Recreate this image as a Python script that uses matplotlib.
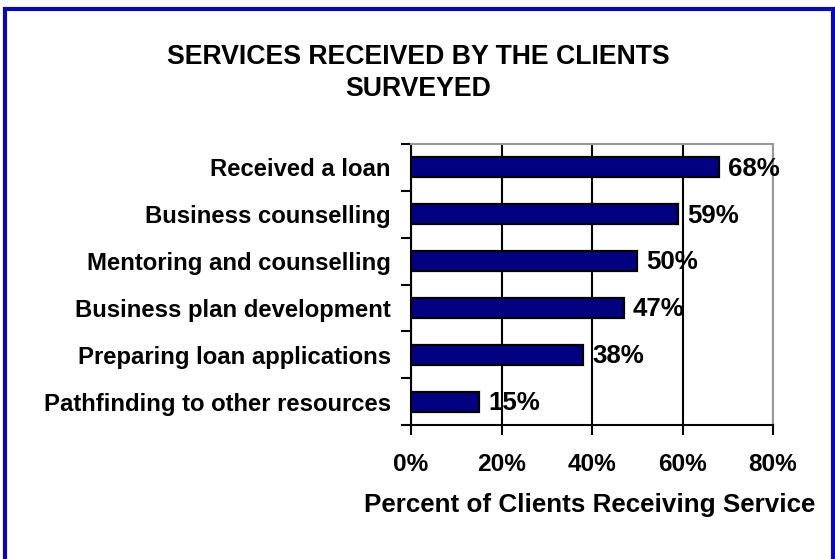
import matplotlib.pyplot as plt
from matplotlib.patches import Rectangle
from matplotlib.ticker import FixedLocator, PercentFormatter

services = [
    "Received a loan",
    "Business counselling",
    "Mentoring and counselling",
    "Business plan development",
    "Preparing loan applications",
    "Pathfinding to other resources",
]
percent = [68, 59, 50, 47, 38, 15]

plt.rcParams["font.family"] = ["Liberation Sans", "DejaVu Sans"]
plt.rcParams["font.weight"] = "bold"

W, H = 835, 559
fig = plt.figure(figsize=(W / 100, H / 100), dpi=100)
ax = fig.add_axes([411 / W, 1 - 425 / H, 362 / W, 281 / H])

# categories from top to bottom
ypos = list(range(len(services)))[::-1]
ax.barh(ypos, percent, height=0.43, color="#000080", edgecolor="black",
        linewidth=1.6, zorder=3)

for y, v in zip(ypos, percent):
    ax.annotate(f"{v}%", xy=(v, y), xytext=(6.5, -1), textcoords="offset points",
                ha="left", va="center", fontsize=18.6, fontweight="bold",
                zorder=4)

ax.set_xlim(0, 80)
ax.set_ylim(-0.5, len(services) - 0.5)
ax.set_xticks([0, 20, 40, 60, 80])
ax.xaxis.set_major_formatter(PercentFormatter(decimals=0))
ax.grid(axis="x", color="black", linewidth=1.5, zorder=1)

# category labels sit between the boundary ticks
ax.set_yticks(ypos)
ax.set_yticklabels(services)
ax.yaxis.set_minor_locator(FixedLocator([i - 0.5 for i in range(len(services) + 1)]))
ax.tick_params(axis="y", which="major", length=0, pad=14.4, labelsize=17.2)
ax.tick_params(axis="y", which="minor", length=7, width=1.5, direction="out")
ax.tick_params(axis="x", length=7, width=1.5, direction="out", pad=13,
               labelsize=17.6)

for side in ("left", "bottom"):
    ax.spines[side].set_linewidth(1.5)
    ax.spines[side].set_color("black")
for side in ("top", "right"):
    ax.spines[side].set_linewidth(1.5)
    ax.spines[side].set_color("#999999")

ax.set_xlabel("Percent of Clients Receiving Service", fontsize=18.7,
              fontweight="bold")
ax.xaxis.set_label_coords((590 - 411) / 362, (425 - 493) / 281)

fig.text(418 / W, 1 - 73 / H, "SERVICES RECEIVED BY THE CLIENTS\nSURVEYED",
         ha="center", va="center", fontsize=19.2, fontweight="bold",
         linespacing=1.3)

# blue frame around the chart
fig.patches.append(Rectangle((4.5 / W, -0.05), 828 / W, 1.05 - 9 / H,
                             transform=fig.transFigure, fill=False,
                             edgecolor="#0A0AAA", linewidth=3))

fig.savefig("out.png", dpi=100)
